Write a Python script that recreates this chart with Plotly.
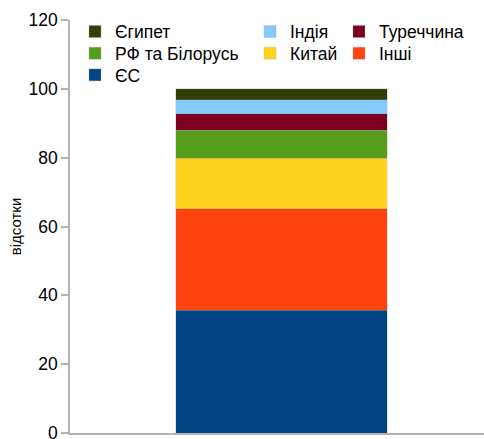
import plotly.graph_objects as go

categories = [0]
series_names = ["ЄС", "Інші", "Китай", "РФ та Білорусь", "Туреччина", "Індія", "Єгипет"]
series_values = [35.6, 29.6, 14.6, 8.2, 4.7, 4.2, 3.1]
series_colors = ["#004586", "#ff420e", "#ffd320", "#579d1c", "#7e0021", "#83caff", "#314004"]

W, H = 484, 439
ML, MR, MT, MB = 70, 0, 20, 6
PW, PH = W - ML - MR, H - MT - MB
FONT = "Liberation Sans, Arial, sans-serif"

# legend text anchor positions (pixels from top-left), one legend per series
legend_pos = {
    "Єгипет": (114, 31.7), "Індія": (289, 31.7), "Туреччина": (378, 31.7),
    "РФ та Білорусь": (114, 53.3), "Китай": (289, 53.3), "Інші": (378, 53.3),
    "ЄС": (114, 75.0),
}

fig = go.Figure()
legend_layouts = {}
for i, (name, val, col) in enumerate(zip(series_names, series_values, series_colors)):
    lg = f"legend{i + 2}"
    fig.add_trace(go.Bar(
        x=categories, y=[val], name=name, width=0.5, showlegend=True,
        marker=dict(color=col, line=dict(color="rgba(160,160,160,0.6)", width=0.5)),
        legend=lg,
    ))
    tx, ty = legend_pos[name]
    legend_layouts[lg] = dict(
        x=(tx - 39 - ML) / PW, y=(H - MB - ty) / PH,
        xref="paper", yref="paper", xanchor="left", yanchor="middle",
        orientation="v", font=dict(family=FONT, size=17.5, color="#000000"),
        bgcolor="rgba(0,0,0,0)", itemwidth=30, tracegroupgap=0,
    )

fig.update_layout(
    width=W, height=H,
    margin=dict(l=ML, r=MR, t=MT, b=MB, autoexpand=False),
    barmode="stack", showlegend=True,
    plot_bgcolor="white", paper_bgcolor="white",
    font=dict(family=FONT, size=16, color="#000000"),
    xaxis=dict(
        range=[-0.5, 0.479], showticklabels=False, ticks="",
        showline=True, linecolor="#b3b3b3", linewidth=1.5, showgrid=False, zeroline=False,
    ),
    yaxis=dict(
        range=[0, 120], dtick=20, showgrid=False, zeroline=False, automargin=False,
        showline=True, linecolor="#b3b3b3", linewidth=1.5,
        ticks="outside", ticklen=7, tickcolor="#b3b3b3", tickwidth=1.5,
        ticklabeloverflow="allow",
        tickfont=dict(family=FONT, size=17.5, color="#000000"),
        title=dict(text="відсотки", font=dict(family=FONT, size=15, color="#000000"), standoff=3),
    ),
    **legend_layouts,
)

fig.write_html("out.html")
